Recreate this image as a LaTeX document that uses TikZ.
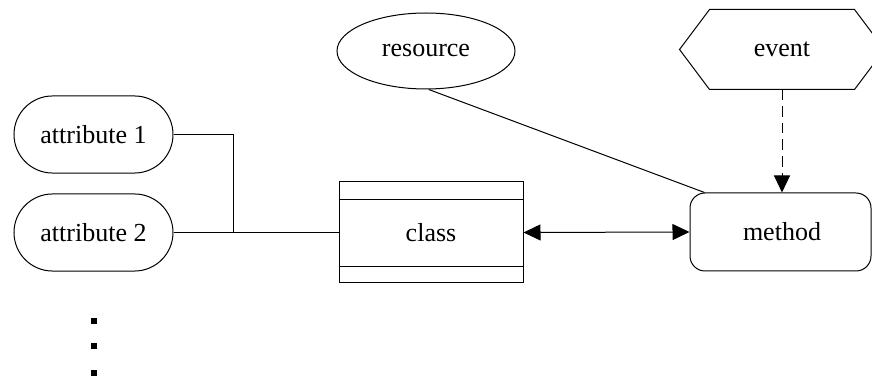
\documentclass[tikz,border=0pt]{standalone}
\usepackage{fontspec}
\setmainfont{Liberation Serif}
\usetikzlibrary{arrows.meta,shapes.geometric}

\tikzset{
  lbl/.style={font=\fontsize{19.5pt}{23pt}\selectfont, inner sep=0pt},
  attrbox/.style={lbl, draw, rectangle, rounded corners=28.9pt,
    minimum width=119.25pt, minimum height=57.8pt},
  classbox/.style={lbl, draw, rectangle, minimum width=138pt, minimum height=75.75pt},
  methodbox/.style={lbl, draw, rectangle, rounded corners=11.25pt,
    minimum width=135.75pt, minimum height=58.5pt},
  resbox/.style={lbl, draw, ellipse, minimum width=133.5pt, minimum height=57pt},
  eventcore/.style={lbl, rectangle, minimum width=108pt, minimum height=59.25pt},
  dotmark/.style={fill, rectangle, inner sep=0pt, minimum size=4.5pt},
  wire/.style={line width=0.75pt},
  tip/.style={-{Triangle[length=12.75pt,width=12pt]}},
}

\begin{document}
\begin{tikzpicture}[x=0.75pt, y=-0.75pt, line width=0.75pt]
  \useasboundingbox (0,0) rectangle (872,377);
  \clip (0,0) rectangle (872,377);

  % attribute terminals
  \node[attrbox] (a1) at (93.5,134.5) {attribute 1};
  \node[attrbox] (a2) at (93.5,232.5) {attribute 2};

  % class box with its two compartment rules
  \node[classbox] (cls) at (431,232.5) {class};
  \draw ([yshift=-13.5pt]cls.north west) -- ([yshift=-13.5pt]cls.north east);
  \draw ([yshift=12.75pt]cls.south west) -- ([yshift=12.75pt]cls.south east);

  % method
  \node[methodbox] (met) at (780.5,232) {\hspace*{2.25pt}method};

  % resource
  \node[resbox] (res) at (426,51) {resource};

  % event hexagon around a plain core node
  \node[eventcore] (ev) at (782,49.5) {event};
  \draw (ev.north west) -- (ev.north east) -- ([xshift=22.5pt]ev.east)
        -- (ev.south east) -- (ev.south west) -- ([xshift=-22.5pt]ev.west) -- cycle;

  % continuation dots
  \node[dotmark] (d1) at (94,321) {};
  \node[dotmark] (d2) at (94,346.5) {};
  \node[dotmark] (d3) at (94,373) {};

  % connectors
  \coordinate (j) at (233,232.5);
  \draw[wire] (a1.east) -| (j);
  \draw[wire] (a2.east) -- (cls.west);
  \draw[wire, {Triangle[length=12.75pt,width=12pt]}-{Triangle[length=12.75pt,width=12pt]}]
        (cls.east) -- (met.west);
  \draw[wire] (res.-86) -- ([xshift=11.25pt]met.north west);
  \draw[wire, tip, dash pattern=on 8pt off 4.5pt] (ev.south) -- (ev.south |- met.north);
\end{tikzpicture}
\end{document}
